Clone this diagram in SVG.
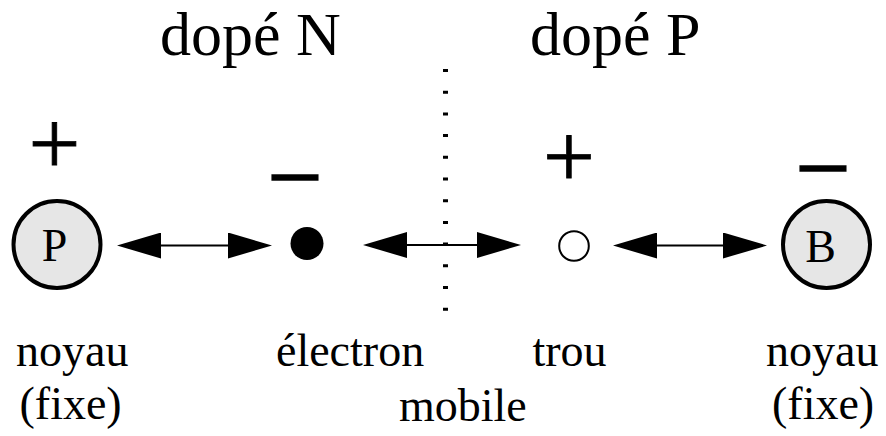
<svg xmlns="http://www.w3.org/2000/svg" width="886" height="436" viewBox="0 0 886 436">
<style>
  text { font-family: "Liberation Serif", "Times New Roman", serif; fill: #000; }
  .title { font-size: 62px; }
  .label { font-size: 46px; }
  .sym { font-size: 92px; text-anchor: middle; stroke: #000; stroke-width: 0.8; }
  .minus { font-size: 98px; text-anchor: middle; stroke: #000; stroke-width: 1.5; }
  .nucleus { fill: #e6e6e6; stroke: #000; stroke-width: 4; }
  .conn { stroke: #000; stroke-width: 2.2; fill: none; marker-start: url(#head); marker-end: url(#head); }
</style>
<defs>
  <marker id="head" viewBox="0 0 44 26" markerWidth="44" markerHeight="26" refX="34" refY="13" orient="auto-start-reverse" markerUnits="userSpaceOnUse">
    <path d="M0,0 L44,13 L0,26 z" fill="#000"/>
  </marker>
</defs>
<rect width="886" height="436" fill="#fff"/>

<g id="titles">
  <text class="title" x="160" y="55">dopé N</text>
  <text class="title" x="530" y="55">dopé P</text>
</g>

<g id="junction">
  <line x1="445.5" y1="69" x2="445.5" y2="311" stroke="#000" stroke-width="5" stroke-dasharray="3 18.7"/>
</g>

<g id="noyau-P">
  <text class="sym" x="54.5" y="174">+</text>
  <circle class="nucleus" cx="57" cy="244.5" r="43.5"/>
  <text class="label" x="54.5" y="261" text-anchor="middle">P</text>
  <text class="label" x="16" y="366">noyau</text>
  <text class="label" x="19.5" y="419">(fixe)</text>
</g>

<g id="electron">
  <text class="minus" x="295" y="209.5">−</text>
  <circle cx="307" cy="243.5" r="16.5" fill="#000"/>
  <text class="label" x="276" y="366">électron</text>
</g>

<g id="mobile">
  <text class="label" x="399" y="421">mobile</text>
</g>

<g id="trou">
  <text class="sym" x="569" y="187">+</text>
  <circle cx="574" cy="246" r="14.8" fill="#fff" stroke="#000" stroke-width="2"/>
  <text class="label" x="532.5" y="366">trou</text>
</g>

<g id="noyau-B">
  <text class="minus" x="823" y="201">−</text>
  <circle class="nucleus" cx="826.5" cy="244.5" r="43.5"/>
  <text class="label" x="820.5" y="262" text-anchor="middle">B</text>
  <text class="label" x="766" y="366">noyau</text>
  <text class="label" x="772" y="419">(fixe)</text>
</g>

<g id="connectors">
  <line class="conn" x1="127" y1="245.5" x2="262" y2="245.5"/>
  <line class="conn" x1="373" y1="245" x2="511" y2="245"/>
  <line class="conn" x1="623" y1="245.5" x2="757" y2="245.5"/>
</g>
</svg>
